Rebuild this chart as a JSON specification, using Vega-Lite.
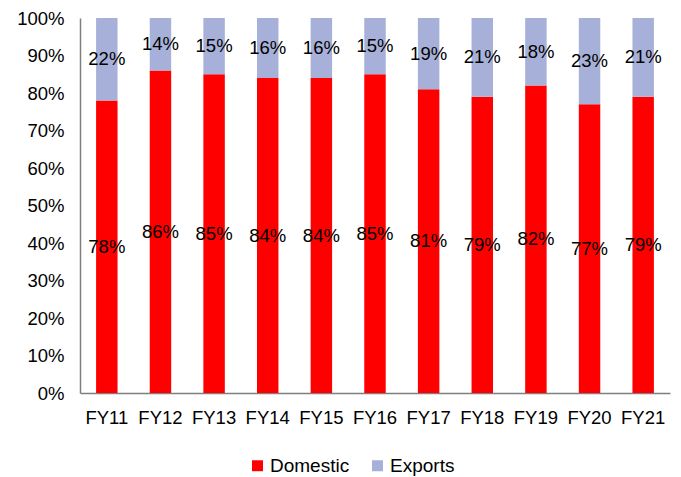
{
  "$schema": "https://vega.github.io/schema/vega-lite/v6.json",
  "width": 590,
  "height": 375,
  "autosize": {"type": "none"},
  "padding": {"left": 80, "top": 18, "right": 11, "bottom": 84},
  "background": "white",
  "config": {
    "view": {"stroke": null},
    "font": "Liberation Sans",
    "axis": {"labelFont": "Liberation Sans", "labelFontSize": 18.5, "labelColor": "#000000", "grid": false, "ticks": false, "domainColor": "#7f7f7f", "domainWidth": 1.5, "title": null}
  },
  "data": {
    "values": [
      {"Year": "FY11", "Segment": "Domestic", "value": 0.78},
      {"Year": "FY11", "Segment": "Exports", "value": 0.22},
      {"Year": "FY12", "Segment": "Domestic", "value": 0.86},
      {"Year": "FY12", "Segment": "Exports", "value": 0.14},
      {"Year": "FY13", "Segment": "Domestic", "value": 0.85},
      {"Year": "FY13", "Segment": "Exports", "value": 0.15},
      {"Year": "FY14", "Segment": "Domestic", "value": 0.84},
      {"Year": "FY14", "Segment": "Exports", "value": 0.16},
      {"Year": "FY15", "Segment": "Domestic", "value": 0.84},
      {"Year": "FY15", "Segment": "Exports", "value": 0.16},
      {"Year": "FY16", "Segment": "Domestic", "value": 0.85},
      {"Year": "FY16", "Segment": "Exports", "value": 0.15},
      {"Year": "FY17", "Segment": "Domestic", "value": 0.81},
      {"Year": "FY17", "Segment": "Exports", "value": 0.19},
      {"Year": "FY18", "Segment": "Domestic", "value": 0.79},
      {"Year": "FY18", "Segment": "Exports", "value": 0.21},
      {"Year": "FY19", "Segment": "Domestic", "value": 0.82},
      {"Year": "FY19", "Segment": "Exports", "value": 0.18},
      {"Year": "FY20", "Segment": "Domestic", "value": 0.77},
      {"Year": "FY20", "Segment": "Exports", "value": 0.23},
      {"Year": "FY21", "Segment": "Domestic", "value": 0.79},
      {"Year": "FY21", "Segment": "Exports", "value": 0.21}
    ]
  },
  "transform": [
    {"stack": "value", "groupby": ["Year"], "sort": [{"field": "Segment", "order": "ascending"}], "as": ["v0", "v1"]},
    {"calculate": "(datum.v0 + datum.v1) / 2", "as": "mid"}
  ],
  "encoding": {
    "x": {
      "field": "Year", "type": "nominal", "sort": null,
      "scale": {"paddingInner": 0.6, "paddingOuter": 0.3},
      "axis": {"labelAngle": 0, "labelPadding": 15}
    }
  },
  "layer": [
    {
      "mark": {"type": "bar"},
      "encoding": {
        "y": {"field": "v0", "type": "quantitative", "scale": {"domain": [0, 1], "nice": false},
          "axis": {"format": ".0%", "values": [0, 0.1, 0.2, 0.3, 0.4, 0.5, 0.6, 0.7, 0.8, 0.9, 1], "labelPadding": 16, "labelOverlap": false, "labelFlush": false}},
        "y2": {"field": "v1"},
        "color": {
          "field": "Segment", "type": "nominal",
          "scale": {"domain": ["Domestic", "Exports"], "range": ["#FF0000", "#A6B0D8"]},
          "legend": {
            "title": null, "orient": "none", "direction": "horizontal",
            "legendX": 168, "legendY": 438,
            "symbolType": "square", "symbolSize": 120, "symbolStrokeWidth": 0,
            "labelFont": "Liberation Sans", "labelFontSize": 19, "labelColor": "#000000",
            "labelOffset": 3, "columnPadding": 18
          }
        }
      }
    },
    {
      "mark": {"type": "text", "fontSize": 18.5, "color": "#000000", "baseline": "middle", "font": "Liberation Sans"},
      "encoding": {
        "y": {"field": "mid", "type": "quantitative",
          "axis": {"format": ".0%", "values": [0, 0.1, 0.2, 0.3, 0.4, 0.5, 0.6, 0.7, 0.8, 0.9, 1], "labelPadding": 16, "labelOverlap": false, "labelFlush": false}},
        "text": {"field": "value", "type": "quantitative", "format": ".0%"}
      }
    }
  ]
}
